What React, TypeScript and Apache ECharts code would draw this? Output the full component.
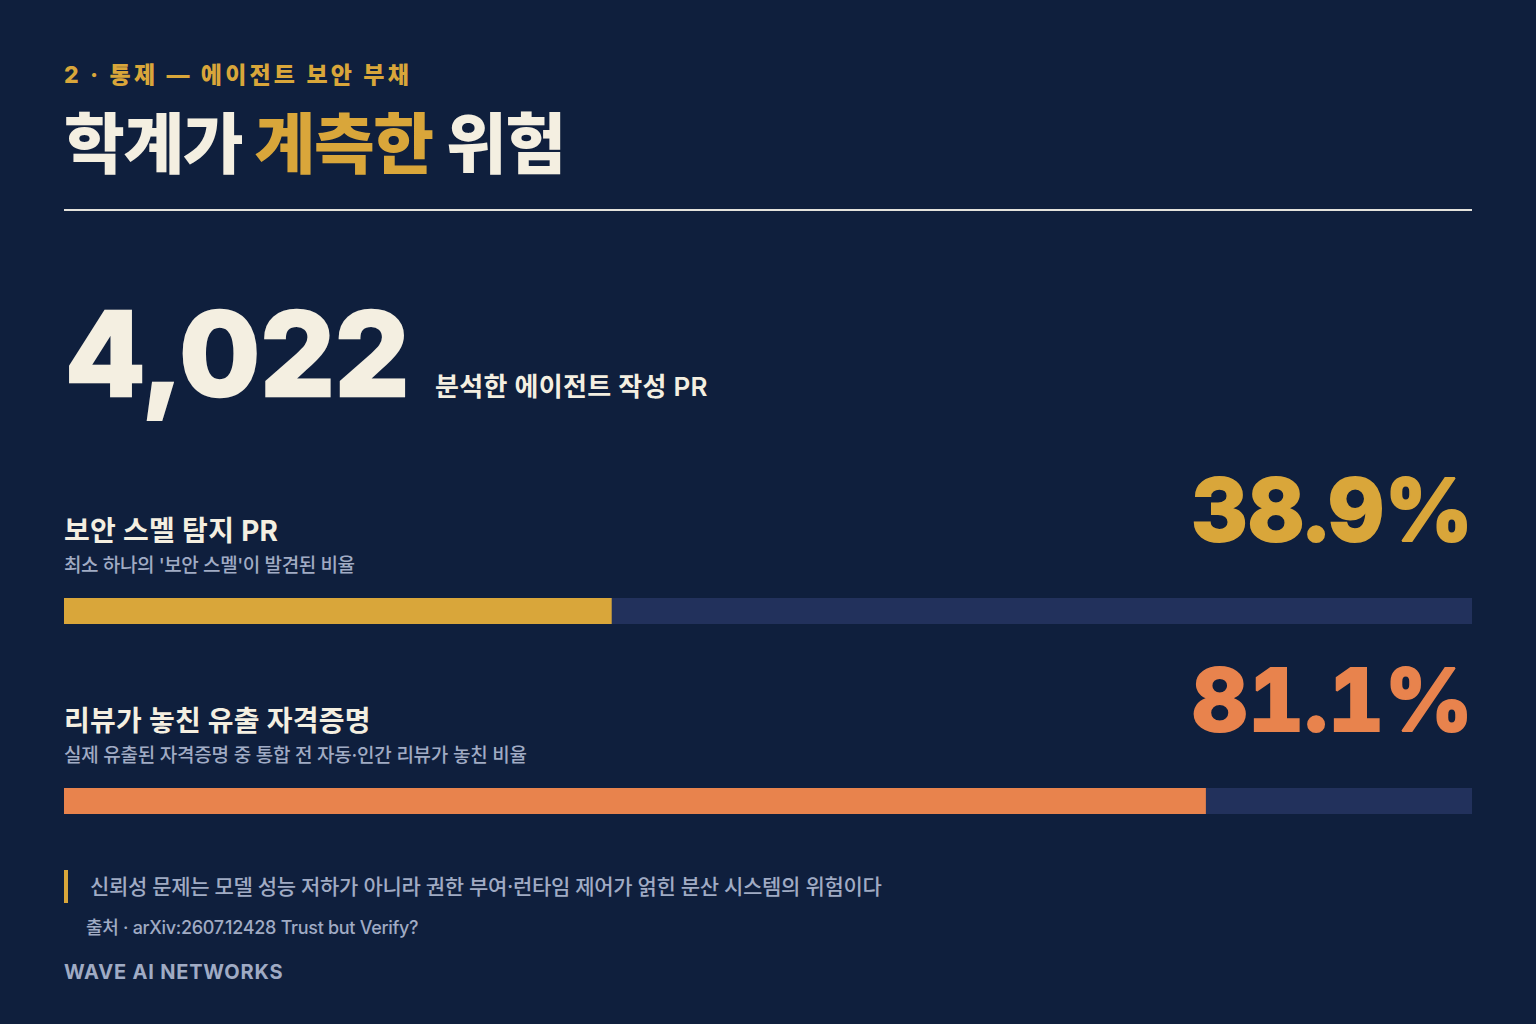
import React, { useEffect, useRef } from "react";
import * as echarts from "echarts";

const BG = "#0f1f3d";
const CREAM = "#f4efe1";
const GOLD = "#d9a63a";
const ORANGE = "#e8834d";
const TRACK = "#22315c";
const MUTED = "#a0abc4";
const FONT = "Inter, 'Noto Sans CJK KR', sans-serif";

const categories = ["리뷰가 놓친 유출 자격증명", "보안 스멜 탐지 PR"];
const values = [81.1, 38.9];
const barColors = [ORANGE, GOLD];

type T = [string, number, number, number, number, string, number, ("left" | "right")?, number?];
// text, x, y(middle), size, weight, color, letterSpacing, align, outline
const texts: T[] = [
  ["2 · 통제 — 에이전트 보안 부채", 64, 75, 23, 800, GOLD, 3.18],
  ["학계가", 64, 144, 66, 900, CREAM, -1.32],
  ["계측한", 254.5, 144, 66, 900, GOLD, -1.32],
  ["위험", 446, 144, 66, 900, CREAM, -1.32],
  ["4,022", 65, 353, 117, 850, CREAM, 0, "left", 2.5],
  ["분석한 에이전트 작성 PR", 435, 386, 26, 600, CREAM, 0.3],
  ["보안 스멜 탐지 PR", 64, 531, 28, 700, CREAM, 0.3],
  ["최소 하나의 '보안 스멜'이 발견된 비율", 64, 565, 19, 500, MUTED, -0.4],
  ["38.9%", 1473.7, 510, 86, 850, GOLD, 0.7, "right", 2],
  ["리뷰가 놓친 유출 자격증명", 64, 721, 28, 700, CREAM, 0.25],
  ["실제 유출된 자격증명 중 통합 전 자동·인간 리뷰가 놓친 비율", 64, 755, 19, 500, MUTED, -0.24],
  ["81.1%", 1473.7, 700, 86, 850, ORANGE, 0.7, "right", 2],
  ["신뢰성 문제는 모델 성능 저하가 아니라 권한 부여·런타임 제어가 얽힌 분산 시스템의 위험이다", 90, 886, 21, 500, MUTED, -0.32],
  ["출처 · arXiv:2607.12428 Trust but Verify?", 86, 927.5, 18, 500, MUTED, -0.3],
  ["WAVE AI NETWORKS", 64, 972, 20, 700, MUTED, 0.8],
];
const tabular = ["38.9%", "81.1%"];

export default function App() {
  const ref = useRef<HTMLDivElement>(null);
  useEffect(() => {
    document.body.style.margin = "0";
    const chart = echarts.init(ref.current!, null, { renderer: "svg" });
    chart.setOption({
      animation: false,
      backgroundColor: BG,
      grid: { left: 64, width: 1408, top: 516, height: 380 },
      xAxis: { type: "value", min: 0, max: 100, show: false },
      yAxis: { type: "category", data: categories, show: false },
      series: [
        {
          type: "bar",
          barWidth: 26,
          silent: true,
          showBackground: true,
          backgroundStyle: { color: TRACK },
          data: values.map((v, i) => ({ value: v, itemStyle: { color: barColors[i] } })),
        },
      ],
      graphic: [
        { type: "rect", shape: { x: 64, y: 209, width: 1408, height: 2 }, style: { fill: "#e4e2dc" } },
        { type: "rect", shape: { x: 64, y: 870, width: 4, height: 33 }, style: { fill: GOLD } },
        ...texts.map(([text, x, y, size, weight, color, , align, outline]) => ({
          type: "text",
          x,
          y,
          style: {
            text,
            fill: color,
            font: `${weight} ${size}px ${FONT}`,
            textAlign: align || "left",
            textVerticalAlign: "middle",
            ...(outline ? { stroke: color, lineWidth: outline } : {}),
          },
        })),
      ],
    });
    const spacing = new Map(texts.map((t) => [t[0], t[6]]));
    ref.current!.querySelectorAll("text").forEach((el) => {
      const c = el.textContent || "";
      const s = spacing.get(c);
      const st = (el as SVGTextElement).style;
      if (s) st.letterSpacing = `${s}px`;
      if (tabular.includes(c)) st.fontVariantNumeric = "tabular-nums";
    });
    return () => chart.dispose();
  }, []);
  return <div ref={ref} style={{ width: 1536, height: 1024 }} />;
}
